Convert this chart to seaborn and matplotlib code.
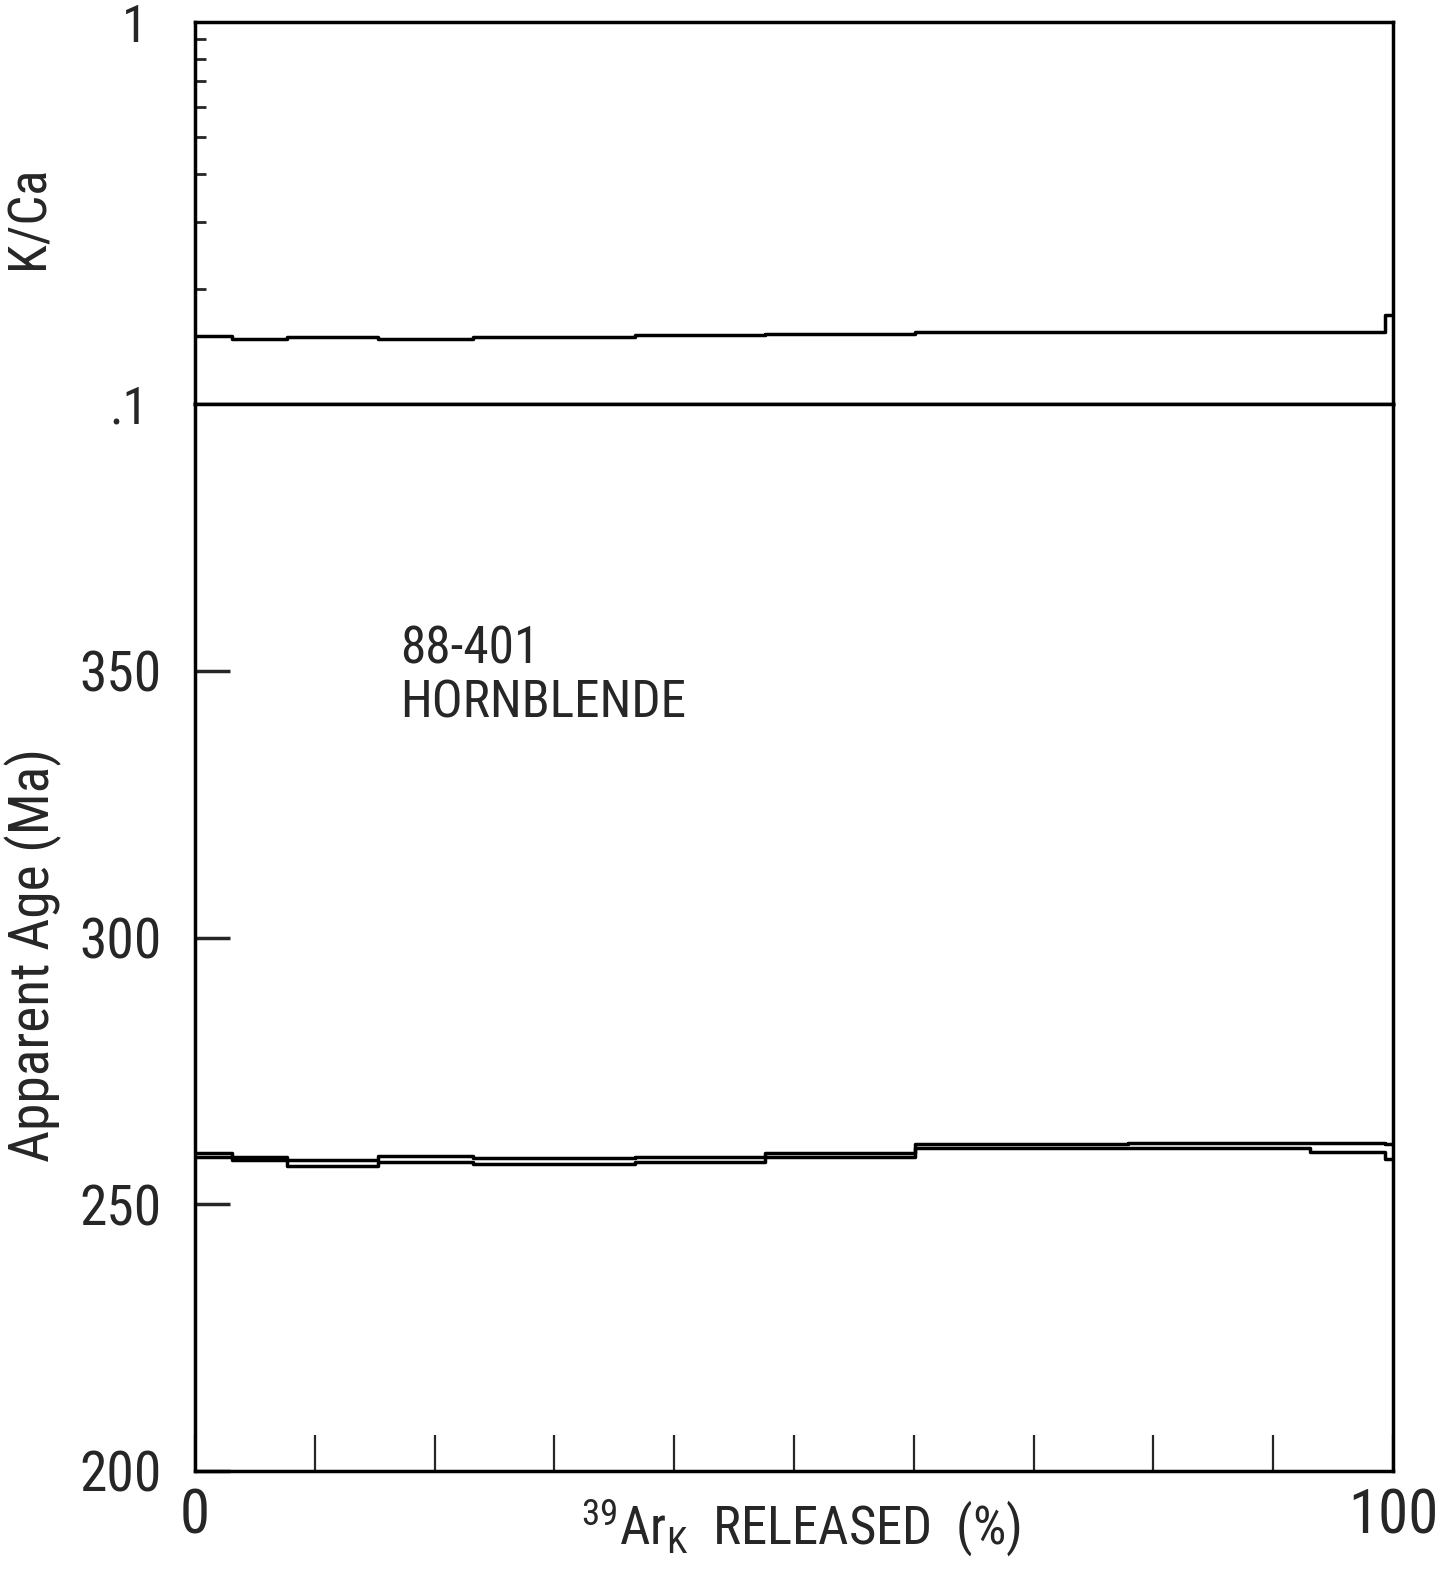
import matplotlib
matplotlib.use("Agg")
import matplotlib.pyplot as plt
import matplotlib.ticker as mticker
from matplotlib import font_manager
import pandas as pd
import seaborn as sns

# Step-heating increments: cumulative 39Ar(K) released (%) at step boundaries
step_edges = [0, 3.1, 7.7, 15.3, 23.2, 36.7, 47.6, 60.1, 77.9, 93.1, 99.3, 100]
# Apparent age of each step (Ma) and its half-height error (Ma)
age_ma = [259.2, 258.6, 257.8, 258.5, 258.1, 258.4, 259.2, 260.9, 261.0, 260.7, 259.9]
age_err = [0.40, 0.35, 0.55, 0.60, 0.60, 0.45, 0.40, 0.40, 0.50, 0.85, 1.40]
# K/Ca ratio of each step
k_ca = [0.1504, 0.1480, 0.1497, 0.1480, 0.1495, 0.1518, 0.1527, 0.1539, 0.1547, 0.1548, 0.1714]

age_ticks = [200, 250, 300, 350]
kca_ticks = [0.1, 1]
kca_tick_labels = [".1", "1"]
release_ticks = list(range(0, 101, 10))
release_tick_labels = ["0"] + [""] * 9 + ["100"]
sample_name = "88-401"
mineral_name = "HORNBLENDE"

sns.set_style("white")
_avail = {f.name for f in font_manager.fontManager.ttflist}
FONT = next((f for f in ["Liberation Sans Narrow", "Roboto Condensed",
                         "DejaVu Sans Condensed", "Liberation Sans"]
             if f in _avail), "DejaVu Sans")
plt.rcParams["font.family"] = [FONT, "DejaVu Sans"]
plt.rcParams["mathtext.fontset"] = "custom"
plt.rcParams["mathtext.rm"] = FONT
plt.rcParams["mathtext.it"] = FONT
plt.rcParams["mathtext.bf"] = FONT

LW = 2.5


def stair(values):
    vals = list(values)
    return pd.DataFrame({"x": step_edges, "y": vals + [vals[-1]]})


fig = plt.figure(figsize=(14.38, 15.74), dpi=100)
W, H = 1438, 1574
left, right = 195 / W, 1393 / W
top_px, mid_px, bot_px = 22, 404, 1471
ax_k = fig.add_axes([left, 1 - mid_px / H, right - left, (mid_px - top_px) / H])
ax_a = fig.add_axes([left, 1 - bot_px / H, right - left, (bot_px - mid_px) / H])

# ---- K/Ca panel ----
sns.lineplot(data=stair(k_ca), x="x", y="y", ax=ax_k, color="black", lw=LW,
             drawstyle="steps-post", estimator=None, sort=False)
ax_k.set_yscale("log")
ax_k.set_ylim(0.1, 1)
ax_k.set_xlim(0, 100)
ax_k.yaxis.set_major_locator(mticker.FixedLocator(kca_ticks))
ax_k.yaxis.set_major_formatter(mticker.FixedFormatter(kca_tick_labels))
ax_k.yaxis.set_minor_locator(mticker.LogLocator(base=10, subs=range(2, 10)))
ax_k.yaxis.set_minor_formatter(mticker.NullFormatter())
ax_k.tick_params(axis="y", which="major", left=True, direction="in", length=0,
                 labelsize=37, pad=34)
ax_k.tick_params(axis="y", which="minor", left=True, direction="in",
                 length=8, width=2.0)
ax_k.tick_params(axis="x", which="both", bottom=False, labelbottom=False)
ax_k.set_xlabel("")
ax_k.set_ylabel("K/Ca", fontsize=38)
ax_k.yaxis.set_label_coords(-0.117, 0.49)

# ---- Age spectrum panel ----
upper = [a + e for a, e in zip(age_ma, age_err)]
lower = [a - e for a, e in zip(age_ma, age_err)]
for env in (upper, lower):
    sns.lineplot(data=stair(env), x="x", y="y", ax=ax_a, color="black", lw=LW,
                 drawstyle="steps-post", estimator=None, sort=False)
ax_a.set_xlim(0, 100)
ax_a.set_ylim(200, 400)
ax_a.set_yticks(age_ticks)
ax_a.set_yticklabels([str(t) for t in age_ticks])
ax_a.set_xticks(release_ticks)
ax_a.set_xticklabels(release_tick_labels)
ax_a.tick_params(axis="y", left=True, direction="in", length=25, width=LW,
                 labelsize=40, pad=24)
ax_a.tick_params(axis="x", bottom=True, direction="in", length=26, width=1.6,
                 labelsize=44, pad=12)
ax_a.set_ylabel("Apparent Age (Ma)", fontsize=40)
ax_a.yaxis.set_label_coords(-0.111, 0.4836)
ax_a.set_xlabel(r"$^{39}$Ar$_{\mathrm{K}}$  RELEASED  (%)", fontsize=38)
ax_a.xaxis.set_label_coords(0.506, -0.024)
ax_a.xaxis.label.set_va("top")

ax_a.text(17.1, 358.6, sample_name, ha="left", va="top", fontsize=37)
ax_a.text(17.1, 348.6, mineral_name, ha="left", va="top", fontsize=37)

for ax in (ax_k, ax_a):
    for sp in ax.spines.values():
        sp.set_visible(True)
        sp.set_linewidth(LW)
        sp.set_color("black")

fig.savefig("out.png", dpi=100, facecolor="white")
